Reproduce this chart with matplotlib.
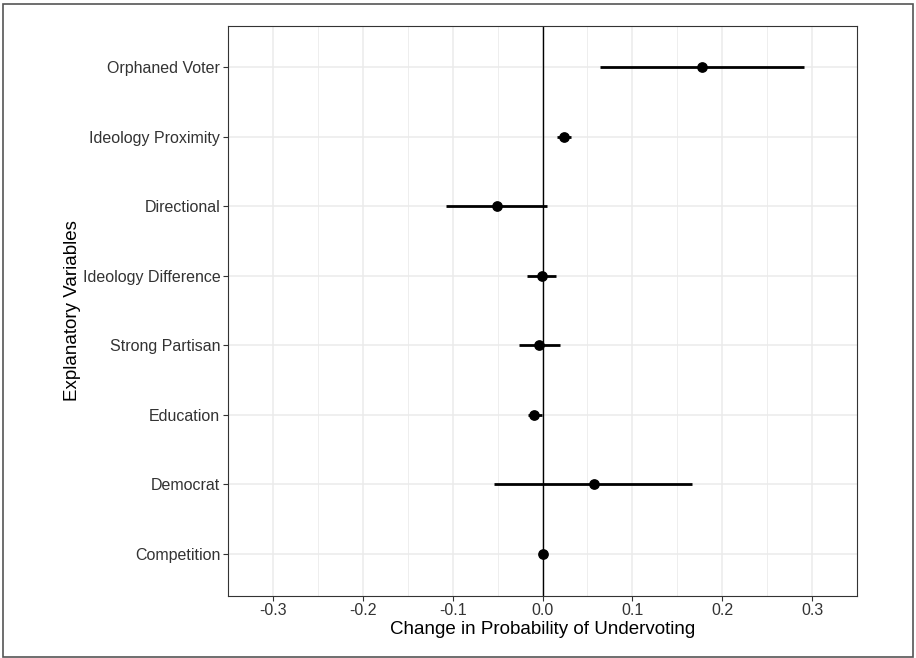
import numpy as np
import matplotlib
matplotlib.use('Agg')
import matplotlib.pyplot as plt
from matplotlib.patches import Rectangle

variables = ['Orphaned Voter', 'Ideology Proximity', 'Directional', 'Ideology Difference',
             'Strong Partisan', 'Education', 'Democrat', 'Competition']
estimate = [0.177, 0.024, -0.051, -0.001, -0.004, -0.009, 0.057, 0.001]
lower = [0.064, 0.016, -0.107, -0.017, -0.026, -0.016, -0.054, 0.000]
upper = [0.291, 0.032, 0.005, 0.015, 0.019, -0.001, 0.166, 0.001]
xticks = [-0.3, -0.2, -0.1, 0.0, 0.1, 0.2, 0.3]
xminor = [-0.35, -0.25, -0.15, -0.05, 0.05, 0.15, 0.25, 0.35]

plt.rcParams['font.family'] = ['Liberation Sans', 'DejaVu Sans']

fig = plt.figure(figsize=(9.16, 6.58), dpi=100)
ax = fig.add_axes([228 / 916, 1 - 595.5 / 658, 629 / 916, 570 / 658])

# categories from top to bottom
ypos = np.arange(len(variables))[::-1]

for x in xminor:
    ax.axvline(x, color='#ebebeb', lw=0.6, zorder=0)
for x in xticks:
    ax.axvline(x, color='#ebebeb', lw=1.1, zorder=0)
for y in ypos:
    ax.axhline(y, color='#ebebeb', lw=1.1, zorder=0)

ax.axvline(0, color='black', lw=1.0, zorder=1)
ax.hlines(ypos, lower, upper, color='black', lw=2.0, zorder=2)
ax.scatter(estimate, ypos, s=45, color='black', zorder=3)

ax.set_xlim(-0.35, 0.35)
ax.set_ylim(-0.6, len(variables) - 0.4)
ax.set_xticks(xticks)
ax.set_xticklabels(['%.1f' % v for v in xticks])
ax.set_yticks(ypos)
ax.set_yticklabels(variables)

ax.tick_params(axis='both', length=3.5, width=0.8, color='#333333',
               labelsize=11.5, labelcolor='#333333', pad=2)
for s in ax.spines.values():
    s.set_color('#333333')
    s.set_linewidth(0.8)

ax.set_xlabel('Change in Probability of Undervoting', fontsize=13.5, labelpad=2)
ax.set_ylabel('Explanatory Variables', fontsize=13.5, va='center')
ax.yaxis.set_label_coords(-0.248, 0.5)

# outer frame around the whole figure
fig.patches.append(Rectangle((3 / 916, 1 / 658), 910 / 916, 653 / 658, transform=fig.transFigure,
                             fill=False, edgecolor='#555555', lw=1.2))

fig.savefig('out.png', dpi=100)
